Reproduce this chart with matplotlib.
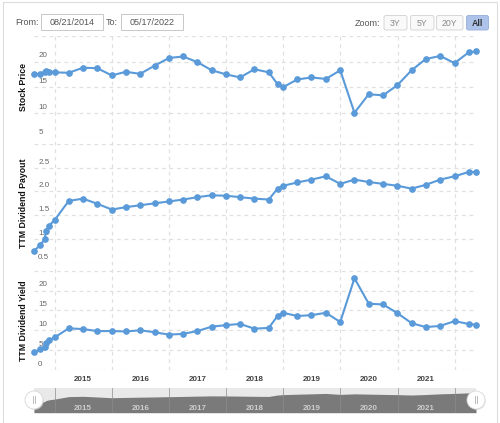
import matplotlib
matplotlib.use("Agg")
import matplotlib.pyplot as plt
import matplotlib.dates as mdates
import matplotlib.transforms as mtransforms
from matplotlib.patches import Rectangle, FancyBboxPatch, Circle
import pandas as pd

# ---------------- data ----------------
dates = ["2014-08-21", "2014-09-30", "2014-10-29", "2014-11-05", "2014-11-25", "2014-12-31",
         "2015-03-31", "2015-06-30", "2015-09-30", "2015-12-31",
         "2016-03-31", "2016-06-30", "2016-09-30", "2016-12-31",
         "2017-03-31", "2017-06-30", "2017-09-30", "2017-12-31",
         "2018-03-31", "2018-06-30", "2018-09-30", "2018-11-25", "2018-12-31",
         "2019-03-31", "2019-06-30", "2019-09-30", "2019-12-31",
         "2020-03-31", "2020-06-30", "2020-09-30", "2020-12-31",
         "2021-03-31", "2021-06-30", "2021-09-30", "2021-12-31",
         "2022-03-31", "2022-05-17"]
stock_price = [17.5, 17.6, 18.0, 18.1, 18.0, 17.9,
               17.8, 18.8, 18.7, 17.3,
               18.0, 17.6, 19.2, 20.7,
               21.0, 19.9, 18.3, 17.5,
               16.9, 18.5, 17.9, 15.6, 15.0,
               16.5, 16.9, 16.6, 18.3,
               10.0, 13.6, 13.4, 15.4,
               18.3, 20.5, 21.1, 19.7,
               21.8, 22.0]
ttm_dividend_payout = [0.75, 0.87, 1.00, 1.16, 1.28, 1.40,
                       1.80, 1.85, 1.74, 1.62,
                       1.67, 1.71, 1.75, 1.79,
                       1.83, 1.88, 1.92, 1.91,
                       1.88, 1.85, 1.83, 2.06, 2.12,
                       2.19, 2.25, 2.32, 2.16,
                       2.25, 2.20, 2.16, 2.12,
                       2.06, 2.14, 2.25, 2.32,
                       2.41, 2.41]
ttm_dividend_yield = [4.5, 5.2, 5.7, 6.7, 7.5, 8.2,
                      10.5, 10.3, 9.8, 9.8,
                      9.7, 10.0, 9.5, 8.9,
                      9.1, 9.8, 10.9, 11.3,
                      11.6, 10.4, 10.6, 13.6, 14.4,
                      13.6, 13.8, 14.4, 12.1,
                      23.1, 16.7, 16.5, 14.3,
                      11.8, 10.8, 11.1, 12.3,
                      11.6, 11.4]
year_labels = ["2015", "2016", "2017", "2018", "2019", "2020", "2021"]
panel_titles = ["Stock Price", "TTM Dividend Payout", "TTM Dividend Yield"]
panel_ticks = [[5, 10, 15, 20], [0.5, 1.0, 1.5, 2.0, 2.5], [0, 5, 10, 15, 20]]
panel_tick_text = [["5", "10", "15", "20"], ["0.5", "1.0", "1.5", "2.0", "2.5"],
                   ["0", "5", "10", "15", "20"]]
panel_limits = [(5, 25), (0.5, 3.0), (0, 25)]
from_date = "08/21/2014"
to_date = "05/17/2022"
zoom_buttons = ["3Y", "5Y", "20Y", "All"]

# ---------------- setup ----------------
W, H = 500, 423
fig = plt.figure(figsize=(W / 100, H / 100), dpi=100)
fig.patch.set_facecolor("white")
x = mdates.date2num(pd.to_datetime(dates))
xmin, xmax = mdates.date2num(pd.to_datetime(["2014-08-21", "2022-05-17"]))
year_bounds = mdates.date2num(pd.to_datetime([f"{y}-01-01" for y in range(2015, 2023)]))
year_mids = mdates.date2num(pd.to_datetime([f"{y}-07-02" for y in year_labels]))

LINE = "#5a9ad9"
GRID = "#e0e0e0"
TXT = "#555555"
FONT = ["Liberation Sans", "DejaVu Sans"]


def px_axes(x0, y0, x1, y1, z=0):
    a = fig.add_axes([x0 / W, 1 - y1 / H, (x1 - x0) / W, (y1 - y0) / H], zorder=z)
    return a


PL, PR = 34, 476

# background with vertical year grid lines
bg = px_axes(PL, 36, PR, 370, z=0)
bg.set_xlim(xmin, xmax)
bg.set_ylim(0, 1)
bg.axis("off")
for yb in year_bounds:
    bg.axvline(yb, color=GRID, lw=0.9, ls=(0, (3, 3)))

panels = [(36, 138.3), (144, 262.7), (270.7, 370)]
series = [stock_price, ttm_dividend_payout, ttm_dividend_yield]
axes = []
for i, ((t, b), vals) in enumerate(zip(panels, series)):
    ax = px_axes(PL, t, PR, b, z=2)
    ax.patch.set_alpha(0)
    ax.set_xlim(xmin, xmax)
    ax.set_ylim(*panel_limits[i])
    for s in ax.spines.values():
        s.set_visible(False)
    ax.set_xticks([])
    ax.set_yticks([])
    for gv in panel_ticks[i] + [panel_limits[i][1]]:
        ax.axhline(gv, color=GRID, lw=0.9, ls=(0, (3, 3)), zorder=1)
    tr = mtransforms.offset_copy(ax.get_yaxis_transform(), fig=fig, x=3, y=1.5, units="points")
    for tv, tt in zip(panel_ticks[i], panel_tick_text[i]):
        ax.text(0.0, tv, tt, transform=tr, ha="left", va="bottom",
                fontsize=5.8, color="#666666", family=FONT, zorder=1)
    ax.plot(x, vals, color=LINE, lw=1.5, marker="o", ms=3.8, zorder=3,
            clip_on=False)
    fig.text(23.5 / W, 1 - ((t + b) / 2) / H, panel_titles[i], rotation=90,
             ha="center", va="center", fontsize=6.3, fontweight="bold",
             color="#111111", family=FONT)
    axes.append(ax)

# x-axis year labels
ax3 = axes[2]
trx = mtransforms.offset_copy(ax3.get_xaxis_transform(), fig=fig, x=0, y=-6.5, units="points")
for xm, lab in zip(year_mids, year_labels):
    ax3.text(xm, 0, lab, transform=trx, ha="center", va="center",
             fontsize=5.8, fontweight="bold", color="#444444", family=FONT)

# ---------------- navigator ----------------
nav = px_axes(PL, 387.5, PR, 412.7, z=1)
nav.set_xlim(xmin, xmax)
nav.set_ylim(-0.81, 3.28)
nav.set_facecolor("#e9e9e9")
for s in nav.spines.values():
    s.set_visible(False)
nav.set_xticks([])
nav.set_yticks([])
nav.fill_between(x, -0.81, ttm_dividend_payout, color="#7a7a7a", lw=0, zorder=1)
for yb in year_bounds:
    nav.axvline(yb, color="#8c8c8c", lw=0.5, zorder=2)
for xm, lab in zip(year_mids, year_labels):
    nav.text(xm, 0.18, lab, transform=nav.get_xaxis_transform(), ha="center",
             va="center", fontsize=5.8, fontweight="bold", color="#cdcdcd",
             family=FONT, zorder=3)

# ---------------- overlay (controls, frame, handles) ----------------
ov = fig.add_axes([0, 0, 1, 1], zorder=5)
ov.set_xlim(0, W)
ov.set_ylim(H, 0)
ov.axis("off")
ov.patch.set_alpha(0)

ov.add_patch(Rectangle((2.5, 2), 494.5, 421, fill=False, ec="#dcdcdc", lw=0.8))

ov.text(15, 22.5, "From:", ha="left", va="center", fontsize=6.5, color=TXT, family=FONT)
ov.add_patch(Rectangle((40.5, 14.5), 62.5, 15.5, fc="white", ec="#c8c8c8", lw=0.7))
ov.text(71.7, 22.5, from_date, ha="center", va="center", fontsize=6.5, color=TXT, family=FONT)
ov.text(106, 22.5, "To:", ha="left", va="center", fontsize=6.5, color=TXT, family=FONT)
ov.add_patch(Rectangle((121, 14.5), 62, 15.5, fc="white", ec="#c8c8c8", lw=0.7))
ov.text(152, 22.5, to_date, ha="center", va="center", fontsize=6.5, color=TXT, family=FONT)

ov.text(380, 23, "Zoom:", ha="right", va="center", fontsize=6.5, color=TXT, family=FONT)
btn_x = [(384, 407), (410.5, 434), (436.5, 463), (466.5, 488.5)]
for (bx0, bx1), lab in zip(btn_x, zoom_buttons):
    active = lab == "All"
    ov.add_patch(FancyBboxPatch((bx0, 15.5), bx1 - bx0, 14.5,
                                boxstyle="round,pad=0,rounding_size=2",
                                fc="#aec3ea" if active else "#f9f9f9",
                                ec="#9eb4dc" if active else "#d6d6d6", lw=0.7))
    ov.text((bx0 + bx1) / 2, 23, lab, ha="center", va="center", fontsize=6.3,
            color="#333333" if active else "#888888",
            fontweight="bold" if active else "normal", family=FONT)

for hx in (PL, PR):
    ov.add_patch(Circle((hx + 0.8, 401), 9, fc="#d0d0d0", ec="none", alpha=0.5))
    ov.add_patch(Circle((hx, 400), 9, fc="white", ec="#d8d8d8", lw=0.6))
    for dx in (-1.2, 1.2):
        ov.plot([hx + dx, hx + dx], [396.5, 403.5], color="#b0b0b0", lw=0.6)

fig.savefig("out.png", dpi=100, facecolor="white")
